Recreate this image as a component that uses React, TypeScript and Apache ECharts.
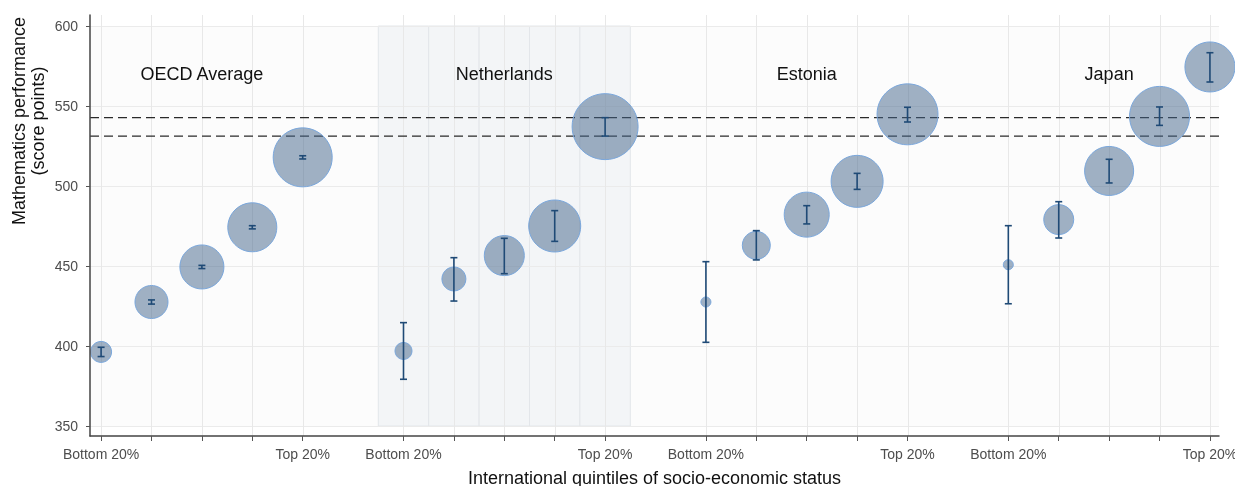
import React, { useEffect, useRef } from 'react';
import * as echarts from 'echarts';

const groupNames = ['OECD Average', 'Netherlands', 'Estonia', 'Japan'];
const quintileLabels = ['Bottom 20%', '', '', '', 'Top 20%'];
const xPositions = [
  [0, 1, 2, 3, 4],
  [6, 7, 8, 9, 10],
  [12, 13, 14, 15, 16],
  [18, 19, 20, 21, 22],
];
const meanScores = [
  [396.3, 427.5, 449.4, 474.2, 517.9],
  [396.9, 441.9, 456.5, 475.0, 537.1],
  [427.5, 462.9, 482.1, 502.9, 544.8],
  [450.8, 479.0, 509.4, 543.5, 574.4],
];
const lowerCI = [
  [393.4, 426.2, 448.4, 473.2, 516.9],
  [379.2, 428.1, 445.2, 465.4, 531.2],
  [402.3, 453.8, 476.3, 497.9, 540.0],
  [426.4, 467.5, 501.9, 537.9, 565.0],
];
const upperCI = [
  [399.2, 428.8, 450.4, 475.2, 518.9],
  [414.6, 455.2, 467.3, 484.6, 542.7],
  [452.7, 472.1, 487.7, 507.9, 549.2],
  [475.2, 490.2, 516.7, 549.4, 583.3],
];
const bubbleDiameters = [
  [21, 33, 44, 49, 59],
  [17, 24, 40, 52, 66],
  [10, 28, 45, 52, 61],
  [10, 30, 49, 60, 50],
];
const referenceLines = [531.2, 542.7];
const yTicks = [350, 400, 450, 500, 550, 600];
const highlightGroup = 1;
const groupLabelY = 570;

const FONT = "'Liberation Sans', Arial, Helvetica, sans-serif";

export default function App() {
  const ref = useRef<HTMLDivElement>(null);

  useEffect(() => {
    const chart = echarts.init(ref.current!, null, { renderer: 'svg' });

    const allX = xPositions.flat();
    const labelX: number[] = [];
    const labelText: Record<number, string> = {};
    xPositions.forEach((g) => {
      g.forEach((x, qi) => {
        if (quintileLabels[qi]) {
          labelX.push(x);
          labelText[x] = quintileLabels[qi];
        }
      });
    });

    const bubbles: number[][] = [];
    const errs: number[][] = [];
    xPositions.forEach((g, gi) =>
      g.forEach((x, qi) => {
        bubbles.push([x, meanScores[gi][qi], bubbleDiameters[gi][qi]]);
        errs.push([x, lowerCI[gi][qi], upperCI[gi][qi]]);
      })
    );
    const groupCenters = xPositions.map((g) => g[2]);

    const option: any = {
      animation: false,
      textStyle: { fontFamily: FONT },
      grid: {
        left: 90,
        right: 16,
        top: 15,
        bottom: 50,
        containLabel: false,
        outerBoundsMode: 'none',
      },
      xAxis: {
        type: 'value',
        min: -0.22,
        max: 22.18,
        z: 10,
        axisLine: { show: true, onZero: false, lineStyle: { color: '#444', width: 1.5 } },
        axisTick: { show: true, customValues: allX, length: 5, lineStyle: { color: '#555', width: 1 } },
        axisLabel: {
          customValues: labelX,
          formatter: (v: number) => labelText[v] ?? '',
          color: '#4d4d4d',
          fontSize: 14,
          margin: 11,
          fontFamily: FONT,
          hideOverlap: false,
        },
        splitLine: { show: false },
        name: 'International quintiles of socio-economic status',
        nameLocation: 'middle',
        nameGap: 33,
        nameTextStyle: { fontSize: 18, color: '#111', fontFamily: FONT },
      },
      yAxis: {
        type: 'value',
        min: 343.75,
        max: 606.875,
        z: 10,
        axisLine: { show: true, onZero: false, lineStyle: { color: '#444', width: 1.5 } },
        axisTick: { show: true, customValues: yTicks, length: 4, lineStyle: { color: '#555', width: 1 } },
        axisLabel: {
          customValues: yTicks,
          color: '#4d4d4d',
          fontSize: 14,
          margin: 12,
          fontFamily: FONT,
        },
        splitLine: { show: false },
      },
      graphic: [
        {
          type: 'text',
          x: 28,
          y: 121,
          rotation: Math.PI / 2,
          style: {
            text: 'Mathematics performance\n(score points)',
            fontSize: 18,
            fontFamily: FONT,
            fill: '#111',
            align: 'center',
            verticalAlign: 'middle',
            lineHeight: 19,
          },
        },
      ],
      series: [
        {
          type: 'custom',
          z: 1,
          silent: true,
          clip: false,
          data: [[0, 350]],
          renderItem: (params: any, api: any) => {
            const cs = params.coordSys;
            const left = cs.x;
            const right = cs.x + cs.width;
            const top = cs.y;
            const bottom = cs.y + cs.height;
            const yLo = api.coord([0, yTicks[0]])[1];
            const yHi = api.coord([0, yTicks[yTicks.length - 1]])[1];
            const children: any[] = [];
            children.push({
              type: 'rect',
              shape: { x: left, y: yHi, width: right - left, height: yLo - yHi },
              style: { fill: '#fcfcfc' },
            });
            xPositions[highlightGroup].forEach((x) => {
              const x0 = api.coord([x - 0.5, 0])[0];
              const x1 = api.coord([x + 0.5, 0])[0];
              children.push({
                type: 'rect',
                shape: { x: x0, y: yHi, width: x1 - x0, height: yLo - yHi },
                style: { fill: '#f3f5f7', stroke: '#e3e6ea', lineWidth: 1 },
              });
            });
            yTicks.forEach((v) => {
              const y = Math.round(api.coord([0, v])[1]) + 0.5;
              children.push({
                type: 'line',
                shape: { x1: left, y1: y, x2: right, y2: y },
                style: { stroke: '#ebebeb', lineWidth: 1 },
              });
            });
            allX.forEach((v) => {
              const x = Math.round(api.coord([v, 0])[0]) + 0.5;
              children.push({
                type: 'line',
                shape: { x1: x, y1: top, x2: x, y2: bottom },
                style: { stroke: '#e8e8e8', lineWidth: 1 },
              });
            });
            return { type: 'group', children };
          },
        },
        {
          type: 'custom',
          z: 2,
          silent: true,
          clip: false,
          data: referenceLines.map((v) => [0, v]),
          renderItem: (params: any, api: any) => {
            const cs = params.coordSys;
            const y = api.coord([0, api.value(1)])[1];
            return {
              type: 'line',
              shape: { x1: cs.x, y1: y, x2: cs.x + cs.width, y2: y },
              style: { stroke: '#2a2a2a', lineWidth: 1.2, lineDash: [9, 5] },
            };
          },
        },
        {
          type: 'scatter',
          z: 3,
          data: bubbles,
          symbolSize: (v: number[]) => v[2],
          itemStyle: {
            color: 'rgba(65,99,137,0.5)',
            borderColor: '#7aa7dc',
            borderWidth: 1,
            opacity: 1,
          },
          emphasis: { disabled: true },
        },
        {
          type: 'custom',
          z: 4,
          silent: true,
          data: errs,
          renderItem: (params: any, api: any) => {
            const x = api.value(0);
            const lo = api.coord([x, api.value(1)]);
            const hi = api.coord([x, api.value(2)]);
            const cx = lo[0];
            const hw = 3.5;
            const st = { stroke: '#1f4a76', lineWidth: 1.6 };
            return {
              type: 'group',
              children: [
                { type: 'line', shape: { x1: cx, y1: lo[1], x2: cx, y2: hi[1] }, style: st },
                { type: 'line', shape: { x1: cx - hw, y1: lo[1], x2: cx + hw, y2: lo[1] }, style: st },
                { type: 'line', shape: { x1: cx - hw, y1: hi[1], x2: cx + hw, y2: hi[1] }, style: st },
              ],
            };
          },
        },
        {
          type: 'custom',
          z: 5,
          silent: true,
          data: groupCenters.map((c) => [c, groupLabelY]),
          renderItem: (params: any, api: any) => {
            const p = api.coord([api.value(0), api.value(1)]);
            return {
              type: 'text',
              x: p[0],
              y: p[1],
              style: {
                text: groupNames[params.dataIndex],
                fontSize: 18,
                fontFamily: FONT,
                fill: '#111',
                align: 'center',
                verticalAlign: 'middle',
              },
            };
          },
        },
      ],
    };

    chart.setOption(option);
    return () => chart.dispose();
  }, []);

  return (
    <div
      ref={ref}
      style={{ position: 'fixed', left: 0, top: 0, width: 1235, height: 486 }}
    />
  );
}
